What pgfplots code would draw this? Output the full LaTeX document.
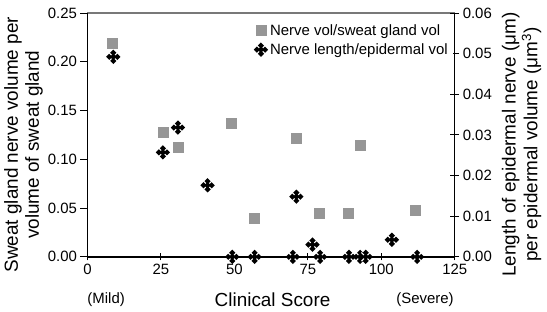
\documentclass[border=0pt]{standalone}
\usepackage{fontspec}
\setmainfont{Liberation Sans}
\usepackage{pgfplots}
\pgfplotsset{compat=1.18}
\definecolor{sqgray}{RGB}{150,150,150}
\definecolor{topgray}{RGB}{120,120,120}

\pgfdeclareplotmark{quilt}{%
  \pgfpathmoveto{\pgfqpoint{0pt}{\pgfplotmarksize}}%
  \pgfpathlineto{\pgfqpoint{\pgfplotmarksize}{0pt}}%
  \pgfpathlineto{\pgfqpoint{0pt}{-\pgfplotmarksize}}%
  \pgfpathlineto{\pgfqpoint{-\pgfplotmarksize}{0pt}}%
  \pgfpathclose
  \pgfusepathqfill
  \pgfsetstrokecolor{white}%
  \pgfsetlinewidth{1.1pt}%
  \pgfpathmoveto{\pgfqpoint{0.25\pgfplotmarksize}{0.25\pgfplotmarksize}}%
  \pgfpathlineto{\pgfqpoint{0.6\pgfplotmarksize}{0.6\pgfplotmarksize}}%
  \pgfpathmoveto{\pgfqpoint{-0.25\pgfplotmarksize}{-0.25\pgfplotmarksize}}%
  \pgfpathlineto{\pgfqpoint{-0.6\pgfplotmarksize}{-0.6\pgfplotmarksize}}%
  \pgfpathmoveto{\pgfqpoint{-0.25\pgfplotmarksize}{0.25\pgfplotmarksize}}%
  \pgfpathlineto{\pgfqpoint{-0.6\pgfplotmarksize}{0.6\pgfplotmarksize}}%
  \pgfpathmoveto{\pgfqpoint{0.25\pgfplotmarksize}{-0.25\pgfplotmarksize}}%
  \pgfpathlineto{\pgfqpoint{0.6\pgfplotmarksize}{-0.6\pgfplotmarksize}}%
  \pgfusepathqstroke
}

\pgfplotstableread{
x y
8.5 0.219
25.7 0.128
30.8 0.112
48.8 0.137
56.7 0.040
71.0 0.122
78.8 0.045
88.9 0.045
92.7 0.114
111.7 0.048
}\sweat

\pgfplotstableread{
x y
8.8 0.0492
25.7 0.0257
30.8 0.0318
40.9 0.0176
49.3 0
56.9 0
69.9 0
71.1 0.0148
76.6 0.0030
79.2 0
89.0 0
92.8 0
94.7 0
103.6 0.0042
112.2 0
}\epid

\begin{document}
\begin{tikzpicture}
\begin{axis}[
  scale only axis, width=369pt, height=245pt,
  xmin=0, xmax=125, ymin=0, ymax=0.25,
  clip=false,
  xtick={0,25,50,75,100,125},
  ytick={0,0.05,0.1,0.15,0.2,0.25},
  xtick pos=bottom, ytick pos=left,
  xtick align=center, ytick align=outside,
  major tick length=7pt,
  axis line style={draw=topgray, line width=1.2pt},
  tick style={black, line width=0.8pt},
  ticklabel style={font=\fontsize{15}{18}\selectfont},
  /pgf/number format/assume math mode=true,
  yticklabel style={/pgf/number format/.cd, fixed, fixed zerofill, precision=2},
  xticklabel style={/pgf/number format/.cd, fixed, precision=0},
  scaled y ticks=false,
  xlabel={Clinical Score},
  xlabel style={at={(axis description cs:0.504,-0.176)}, anchor=center, font=\fontsize{19}{21}\selectfont},
  ylabel={\begin{tabular}{c}Sweat gland nerve volume per\\volume of sweat gland\end{tabular}},
  ylabel style={at={(axis description cs:-0.172,0.46)}, anchor=center, rotate=0, font=\fontsize{19}{21}\selectfont},
]
\draw[black, line width=1.3pt] (rel axis cs:0,0) -- (rel axis cs:0,1);
\draw[black, line width=1.8pt] (rel axis cs:0,0) -- (rel axis cs:1,0);
\addplot[only marks, mark=square*, mark size=5pt, color=sqgray] table[x=x, y=y] {\sweat};
\node[font=\fontsize{15}{18}\selectfont] at (axis description cs:0.051,-0.176) {(Mild)};
\node[font=\fontsize{15}{18}\selectfont] at (axis description cs:0.919,-0.176) {(Severe)};
\end{axis}
\begin{axis}[
  scale only axis, width=369pt, height=245pt,
  xmin=0, xmax=125, ymin=0, ymax=0.06,
  clip=false,
  axis x line=none, axis y line*=right,
  ytick={0,0.01,0.02,0.03,0.04,0.05,0.06},
  ytick align=center,
  major tick length=9pt,
  axis line style={draw=black, line width=1pt},
  tick style={black, line width=0.8pt},
  ticklabel style={font=\fontsize{15}{18}\selectfont},
  /pgf/number format/assume math mode=true,
  yticklabel style={/pgf/number format/.cd, fixed, fixed zerofill, precision=2},
  scaled y ticks=false,
  ylabel={\begin{tabular}{c}Length of epidermal nerve (μm)\\per epidermal volume (μm\textsuperscript{3})\end{tabular}},
  ylabel style={at={(axis description cs:1.184,0.46)}, anchor=center, rotate=0, font=\fontsize{19}{21}\selectfont},
  legend style={at={(rel axis cs:0.995,0.975)}, anchor=north east, draw=none, fill=white,
    font=\fontsize{15}{18}\selectfont, row sep=3pt, inner sep=3pt},
  legend cell align=left,
]
\addlegendimage{only marks, mark=square*, mark size=5pt, color=sqgray}
\addlegendentry{Nerve vol/sweat gland vol}
\addplot[only marks, mark=quilt, mark size=7.2pt, color=black, fill=black] table[x=x, y=y] {\epid};
\addlegendentry{Nerve length/epidermal vol}
\end{axis}
\path[use as bounding box] (-87pt,-55pt) rectangle (460pt,258pt);
\end{tikzpicture}
\end{document}
